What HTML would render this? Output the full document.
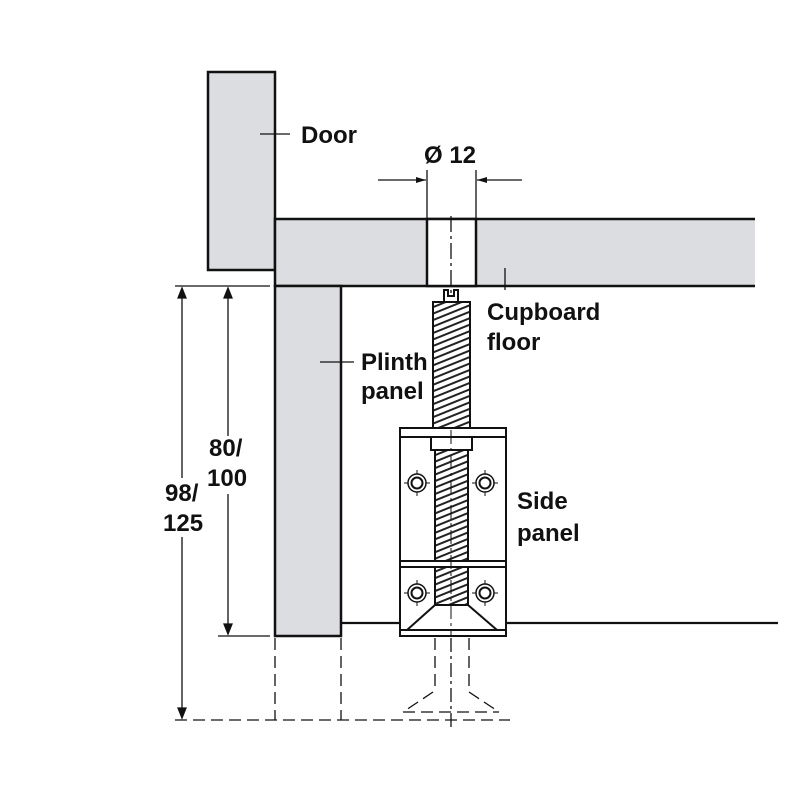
<!DOCTYPE html>
<html><head><meta charset="utf-8"><style>
html,body{margin:0;padding:0;background:#fff;}
svg{display:block}
text{font-family:"Liberation Sans",sans-serif;font-weight:bold;font-size:24px;fill:#111}
</style></head><body>
<svg width="800" height="800" viewBox="0 0 800 800" xmlns="http://www.w3.org/2000/svg">
<defs>
<pattern id="th" width="8" height="6" patternUnits="userSpaceOnUse" patternTransform="rotate(-22)">
<rect width="8" height="6" fill="#fff"/>
<line x1="0" y1="3" x2="8" y2="3" stroke="#222" stroke-width="2"/>
</pattern>
<marker id="ar" viewBox="0 0 10 6" refX="10" refY="3" markerWidth="10" markerHeight="6" orient="auto" markerUnits="userSpaceOnUse"><path d="M0,0L10,3L0,6z" fill="#111"/></marker>
</defs>
<g stroke="#111" stroke-width="2.5" fill="#dcdde0">
<rect x="208" y="72" width="67" height="198"/>
<path d="M755,219 H275 V286 H755" />
<rect x="427" y="219" width="49" height="67" fill="#fff"/>
<rect x="275" y="286" width="66" height="350"/>
</g>
<g stroke="#111" stroke-width="1.3" fill="none">
<line x1="260" y1="134" x2="290" y2="134"/>
<line x1="505" y1="268" x2="505" y2="290"/>
<line x1="320" y1="362" x2="354" y2="362"/>
<line x1="427" y1="170" x2="427" y2="219"/>
<line x1="476" y1="170" x2="476" y2="219"/>
<line x1="378" y1="180" x2="426" y2="180" marker-end="url(#ar)"/>
<line x1="522" y1="180" x2="477" y2="180" marker-end="url(#ar)"/>
<line x1="451" y1="216" x2="451" y2="300" stroke-dasharray="16,4,3,4"/>
<line x1="175" y1="286" x2="270" y2="286"/>
<line x1="218" y1="636" x2="270" y2="636"/>
<path d="M182,289 V478 M182,537 V718"/>
<path d="M228,289 V436 M228,494 V634"/>
<path d="M178,298 L182,288 L186,298z M178,708 L182,718 L186,708z M224,298 L228,288 L232,298z M224,624 L228,634 L232,624z" fill="#111"/>
<g stroke-dasharray="12,6">
<line x1="275" y1="638" x2="275" y2="720"/>
<line x1="341" y1="638" x2="341" y2="720"/>
<line x1="175" y1="720" x2="510" y2="720"/>
<line x1="435" y1="638" x2="435" y2="692"/>
<line x1="469" y1="638" x2="469" y2="692"/>
<path d="M433,692 L403,712 M469,692 L499,712 M403,712 H499"/>
</g>
<line x1="451" y1="638" x2="451" y2="730" stroke-dasharray="14,4,3,4"/>
</g>
<line x1="341" y1="623" x2="778" y2="623" stroke="#111" stroke-width="2.2"/>
<g stroke="#111" stroke-width="2">
<path d="M444,304 V290 H448 V296 H454 V290 H458 V304" fill="#fff"/>
<rect x="433" y="302" width="37" height="126" fill="url(#th)"/>
<rect x="400" y="428" width="106" height="208" fill="#fff"/>
<line x1="400" y1="437" x2="506" y2="437"/>
<rect x="431" y="437" width="41" height="13" fill="#fff"/>
<line x1="400" y1="561" x2="506" y2="561"/>
<line x1="400" y1="567" x2="506" y2="567"/>
<line x1="400" y1="630" x2="506" y2="630"/>
<rect x="435" y="450" width="33" height="111" fill="url(#th)"/>
<rect x="435" y="567" width="33" height="38" fill="url(#th)"/>
<path d="M435,605 L407,630 H497 L468,605 Z" fill="#fff"/>
</g>
<line x1="451" y1="430" x2="451" y2="636" stroke="#111" stroke-width="1" stroke-dasharray="14,4,3,4"/>
<g stroke="#111" fill="#fff">
<g transform="translate(417,483)"><line x1="-13" x2="13" stroke-width="1"/><line y1="-13" y2="13" stroke-width="1"/><circle r="9" stroke-width="1.5"/><circle r="5.5" stroke-width="2"/></g>
<g transform="translate(485,483)"><line x1="-13" x2="13" stroke-width="1"/><line y1="-13" y2="13" stroke-width="1"/><circle r="9" stroke-width="1.5"/><circle r="5.5" stroke-width="2"/></g>
<g transform="translate(417,593)"><line x1="-13" x2="13" stroke-width="1"/><line y1="-13" y2="13" stroke-width="1"/><circle r="9" stroke-width="1.5"/><circle r="5.5" stroke-width="2"/></g>
<g transform="translate(485,593)"><line x1="-13" x2="13" stroke-width="1"/><line y1="-13" y2="13" stroke-width="1"/><circle r="9" stroke-width="1.5"/><circle r="5.5" stroke-width="2"/></g>
</g>
<text x="301" y="143">Door</text>
<text x="424" y="163">Ø 12</text>
<text x="487" y="320">Cupboard</text>
<text x="487" y="350">floor</text>
<text x="361" y="370">Plinth</text>
<text x="361" y="399">panel</text>
<text x="209" y="456">80/</text>
<text x="207" y="486">100</text>
<text x="165" y="501">98/</text>
<text x="163" y="531">125</text>
<text x="517" y="509">Side</text>
<text x="517" y="541">panel</text>
</svg>
</body></html>
